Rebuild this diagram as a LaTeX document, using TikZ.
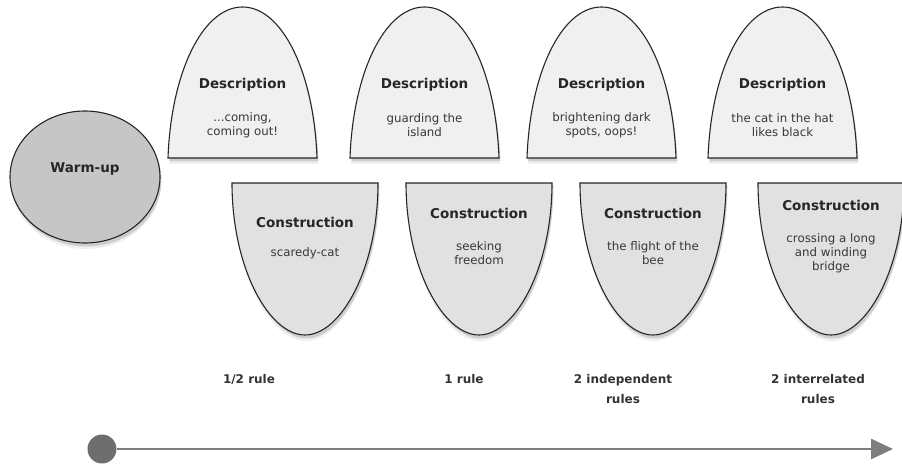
\documentclass[tikz,border=0pt]{standalone}
\usepackage{fontspec}
\setmainfont{DejaVu Sans}
\usetikzlibrary{shadows,arrows.meta}

\definecolor{descfill}{HTML}{F0F0F0}
\definecolor{consfill}{HTML}{E1E1E1}
\definecolor{warmfill}{HTML}{C6C6C6}
\definecolor{linegray}{HTML}{7E7E7E}
\definecolor{dotgray}{HTML}{6E6E6E}

\tikzset{
	shapeline/.style={draw=black!85, line width=1.1pt,
		drop shadow={shadow xshift=1pt, shadow yshift=-6pt, opacity=0.12},
		drop shadow={shadow xshift=1.5pt, shadow yshift=-3.5pt, opacity=0.3}},
	titletext/.style={font=\bfseries\fontsize{13.5}{15}\selectfont, text=black!85},
	bodytext/.style={font=\fontsize{11.8}{14}\selectfont, text=black!78, align=center},
	ruletext/.style={font=\bfseries\fontsize{12}{20}\selectfont, text=black!80, align=center, anchor=north},
}

\begin{document}
\begin{tikzpicture}[x=1pt,y=-1pt]
		\useasboundingbox (0,0) rectangle (902,465);
		% warm-up
		\draw[shapeline, fill=warmfill] (85,177) ellipse [x radius=75, y radius=66];
		\node[titletext] (warmup) at (85,169) {Warm-up};
		\foreach \x/\txt [count=\i] in {168/{...coming,\\coming out!}, 350/{guarding the\\island}, 527/{brightening dark\\spots, oops!}, 708/{the cat in the hat\\likes black}} % edit here for the description arches
		{
		\draw[shapeline, fill=descfill] (\x,158) .. controls +(3,-85) and +(-40,0) .. ({\x+74.5},7)
			.. controls +(40,0) and +(-3,-85) .. ({\x+149},158) -- cycle;
		\node[titletext] (desc\i) at ({\x+74.5},85) {Description};
		\node[bodytext] (desctxt\i) at ({\x+74.5},125) {\txt};
		}
		\foreach \c/\ty/\txt [count=\i] in {305/222/{scaredy-cat}, 479/213/{seeking\\freedom}, 653/213/{the flight of the\\bee}, 831/205/{crossing a long\\and winding\\bridge}} % edit here for the construction shields
		{
		\draw[shapeline, fill=consfill] ({\c-73},183) -- ({\c+73},183) .. controls +(0,85) and +(36,0) .. (\c,335)
			.. controls +(-36,0) and +(0,85) .. ({\c-73},183) -- cycle;
		\node[titletext] (cons\i) at (\c,\ty) {Construction};
		\node[bodytext] (constxt\i) at (\c,253) {\txt};
		}
		\foreach \x/\txt [count=\i] in {249/{1/2 rule}, 464/{1 rule}, 623/{2 independent\\rules}, 818/{2 interrelated\\rules}} % edit here for the rules
		\node[ruletext] (rule\i) at (\x,371) {\txt};
		% time line
		\node[circle, fill=dotgray, minimum size=29pt, inner sep=0pt] (start) at (102,449) {};
		\coordinate (end) at (893,449);
		\draw[linegray, line width=2.5pt, -{Triangle[length=22pt, width=20pt]}] (start) -- (end);
	\end{tikzpicture}
\end{document}
